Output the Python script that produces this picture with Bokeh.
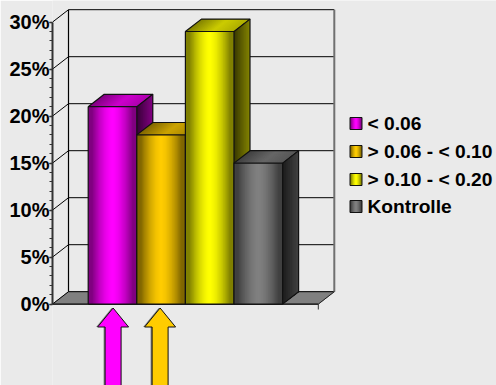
from bokeh.embed import file_html
from bokeh.resources import INLINE
from bokeh.plotting import figure
from bokeh.models import Range1d, FixedTicker, PrintfTickFormatter
from bokeh.core.properties import value

# Chart data
categories = ["< 0.06", "> 0.06 - < 0.10", "> 0.10 - < 0.20", "Kontrolle"]
percent_values = [21, 18, 29, 15]
base_colors = [(255, 0, 255), (255, 204, 0), (255, 255, 0), (128, 128, 128)]
major_ticks = [0, 5, 10, 15, 20, 25, 30]
minor_ticks = list(range(0, 31))
marked_bars = [0, 1]

# Page layout in pixels
W, H = 496, 385
BG = "#EAEAEA"
FONT = "Liberation Sans"
AXIS_LEFT = 52
ZERO_Y = 303.6
PX_PER_PCT = 9.4
BAR_W = 48.6
FIRST_BAR = 87.7
ARROW_CENTRES = [112.6, 159.6]

GAP = (FIRST_BAR - AXIS_LEFT) / BAR_W
x_start = -GAP
x_end = x_start + (W - AXIS_LEFT) / BAR_W
y_end = ZERO_Y / PX_PER_PCT
y_start = y_end - H / PX_PER_PCT

DX = 16 / BAR_W            # depth offset of the 3D extrusion
DY = 12.4 / PX_PER_PCT


def X(px):
    return (px - FIRST_BAR) / BAR_W


def Y(px):
    return (ZERO_Y - px) / PX_PER_PCT


p = figure(width=W, height=H, output_backend="svg", toolbar_location=None,
           x_range=Range1d(x_start, x_end), y_range=Range1d(y_start, y_end),
           x_axis_location=None, y_axis_location="left",
           min_border_left=AXIS_LEFT, min_border_right=0,
           min_border_top=0, min_border_bottom=0,
           background_fill_color=BG, border_fill_color=BG, outline_line_color=None)
p.grid.visible = False

ax = p.yaxis[0]
ax.ticker = FixedTicker(ticks=major_ticks, minor_ticks=minor_ticks)
ax.formatter = PrintfTickFormatter(format="%d%%")
ax.bounds = (0, 30)
ax.axis_line_color = "#333333"
ax.axis_line_width = 2
ax.major_tick_in = 0
ax.major_tick_out = 3
ax.major_tick_line_color = "#222222"
ax.major_tick_line_width = 1.5
ax.minor_tick_in = 0
ax.minor_tick_out = 3
ax.minor_tick_line_color = "#333333"
ax.minor_tick_line_width = 1
ax.major_label_standoff = 0
ax.major_label_text_font = FONT
ax.major_label_text_font_style = "bold"
ax.major_label_text_font_size = "20px"
ax.major_label_text_color = "#000000"


def shade(rgb, k):
    return "#%02x%02x%02x" % tuple(min(255, int(round(c * k))) for c in rgb)


def front_profile(t):
    # Dark edges, bright centre
    d = min(1.0, abs(t - 0.5) / 0.42)
    return 1.0 - 0.5 * d ** 1.6


def top_profile(t):
    return 0.5 + 0.3 * min(t / 0.55, 1.0) - 0.12 * max(t - 0.55, 0) / 0.45


def side_profile(t):
    return 0.22 + 0.3 * t


def gradient_box(x0, x1, y0, y1, rgb, n=40):
    # Each strip runs to the right edge and is overpainted by the next, leaving no seams
    lefts = [x0 + (x1 - x0) * i / n for i in range(n)]
    colors = [shade(rgb, front_profile((i + 0.5) / n)) for i in range(n)]
    p.quad(left=lefts, right=x1, bottom=y0, top=y1, fill_color=colors, line_color=None)


def outline(xs, ys, color="#111111", width=1.2):
    p.line(xs, ys, line_color=color, line_width=width)


# Back wall, side wall and floor
floor_end = 4 + GAP
p.patch([x_start, x_start + DX, floor_end + DX, floor_end],
        [0, DY, DY, 0], fill_color="#808080", line_color="#808080")
for t in major_ticks:
    outline([x_start, x_start + DX], [t, t + DY], "#000000", 1)
    outline([x_start + DX, floor_end + DX], [t + DY, t + DY], "#000000", 1)
outline([x_start + DX, x_start + DX], [DY, 30 + DY], "#000000", 1.2)
outline([floor_end + DX, floor_end + DX], [DY, 30 + DY], "#707070", 2)
outline([floor_end, floor_end + DX], [0, DY], "#222222", 1)
outline([x_start, floor_end], [0, 0], "#000000", 1.2)
outline([floor_end, floor_end], [0, Y(309)], "#333333", 1)

# Extruded bars, painted left to right so that each covers its neighbour's side
for i, (v, rgb) in enumerate(zip(percent_values, base_colors)):
    n = 24
    xs_top, ys_top, top_colors = [], [], []
    xs_side, ys_side, side_colors = [], [], []
    for j in range(n):
        a, mid = j / n, (j + 0.5) / n
        xs_top.append([i + a, i + 1, i + 1 + DX, i + a + DX])
        ys_top.append([v, v, v + DY, v + DY])
        top_colors.append(shade(rgb, top_profile(mid)))
        xs_side.append([i + 1 + a * DX, i + 1 + DX, i + 1 + DX, i + 1 + a * DX])
        ys_side.append([a * DY, DY, v + DY, v + a * DY])
        side_colors.append(shade(rgb, side_profile(mid)))
    p.patches(xs_top, ys_top, fill_color=top_colors, line_color=None)
    p.patches(xs_side, ys_side, fill_color=side_colors, line_color=None)
    gradient_box(i, i + 1, 0, v, rgb)
    outline([i, i, i + 1, i + 1, i], [0, v, v, 0, 0])
    outline([i, i + DX, i + 1 + DX, i + 1 + DX, i + 1], [v, v + DY, v + DY, DY, 0])
    outline([i + 1, i + 1 + DX], [v, v + DY])

# Arrows under the marked bars
HEAD_HALF, SHAFT_HALF = 15.5, 8
for i, cx in zip(marked_bars, ARROW_CENTRES):
    px_x = [cx, cx + HEAD_HALF, cx + SHAFT_HALF, cx + SHAFT_HALF,
            cx - SHAFT_HALF, cx - SHAFT_HALF, cx - HEAD_HALF]
    px_y = [307.5, 326.5, 326.5, 390, 390, 326.5, 326.5]
    p.patch([X(q - 1.5) for q in px_x], [Y(q) for q in px_y],
            fill_color="#7f7f7f", line_color=None)
    p.patch([X(q) for q in px_x], [Y(q) for q in px_y],
            fill_color=shade(base_colors[i], 1.0), line_color="#111111", line_width=1)

# Legend
row_centres = [123, 151, 179, 206]
for label, rgb, cy in zip(categories, base_colors, row_centres):
    gradient_box(X(349.5), X(361.5), Y(cy + 6), Y(cy - 6), rgb, n=10)
    outline([X(349.5), X(361.5), X(361.5), X(349.5), X(349.5)],
            [Y(cy - 6), Y(cy - 6), Y(cy + 6), Y(cy + 6), Y(cy - 6)], "#111111", 1)
    p.text(x=[X(367)], y=[Y(cy)], text=[label], text_font=value(FONT),
           text_font_style="bold", text_font_size="19.2px", text_color="#000000",
           text_baseline="middle", text_align="left")

open("out.html", "w").write(file_html(p, INLINE))
